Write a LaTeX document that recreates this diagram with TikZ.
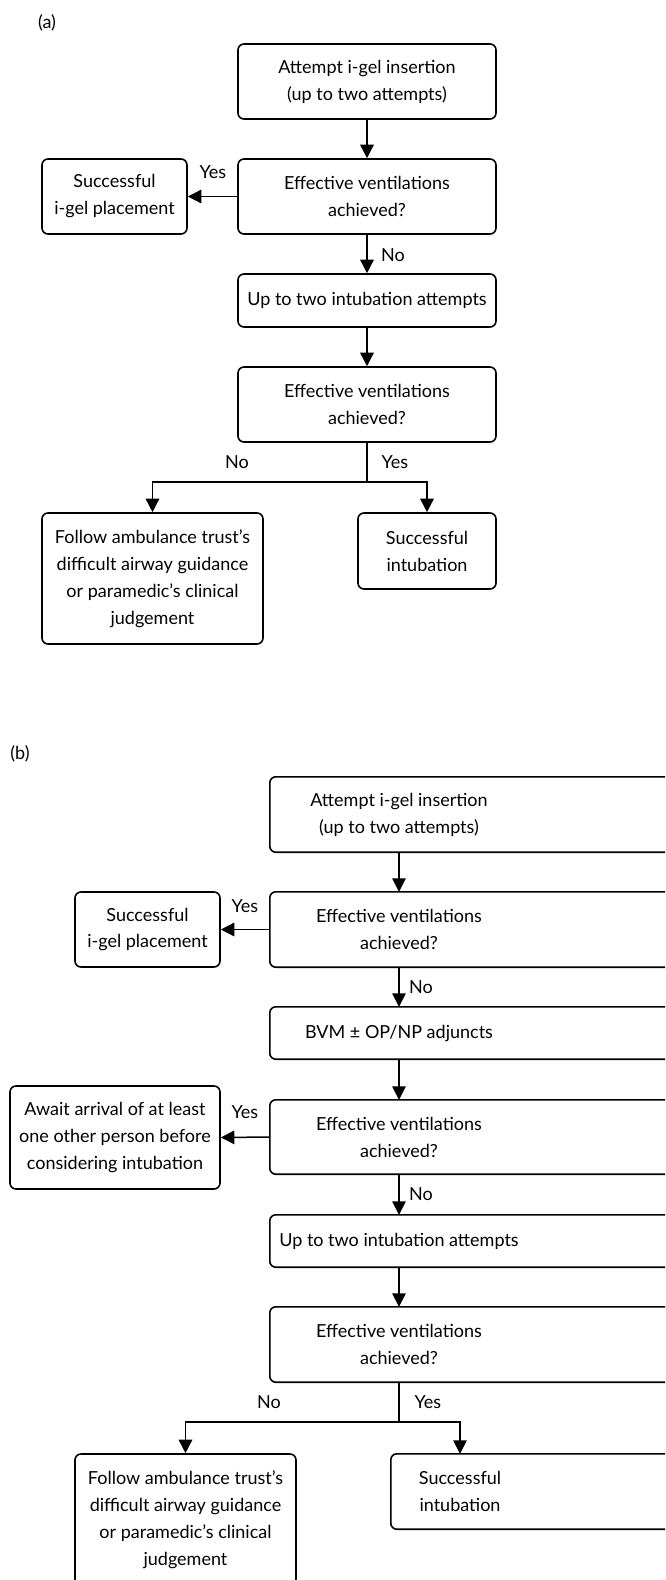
\documentclass[tikz,border=0pt]{standalone}
\usepackage{fontspec}
\setmainfont{Lato}
\usetikzlibrary{arrows.meta}
\begin{document}
\begin{tikzpicture}[x=1pt,y=-1pt,
  every node/.style={font=\fontsize{18}{27}\selectfont, inner sep=0pt},
  boxline/.style={draw=black, line width=1.6pt, rounded corners=6pt},
  flowbox/.style={boxline, align=center, minimum width=#1},
  flowbox/.default=258pt,
  textonly/.style={align=center, minimum width=258pt},
  conn/.style={line width=1.5pt, -{Triangle[length=13.5pt,width=13.5pt]}},
  plain/.style={line width=1.5pt},
  lab/.style={font=\fontsize{18}{27}\selectfont}
]
\useasboundingbox (0,0) rectangle (665,1580);
\clip (0,0) rectangle (665,1580);

% ---------------- (a) ----------------
\node[lab] (la) at (47,23) {(a)};
\node[flowbox, minimum height=75pt] (a1) at (367,81.5) {Attempt i-gel insertion\\(up to two attempts)};
\node[flowbox, minimum height=75pt] (a2) at (367,196.5) {Effective ventilations\\achieved?};
\node[flowbox=145pt, minimum height=75pt] (ay) at (114.5,196.5) {Successful\\i-gel placement};
\node[flowbox, minimum height=53pt] (a3) at (367,300.5) {Up to two intubation attempts};
\node[flowbox, minimum height=75pt] (a4) at (367,404.5) {Effective ventilations\\achieved?};
\node[flowbox=221pt, minimum height=131pt] (af) at (152.5,578.5) {Follow ambulance trust’s\\difficult airway guidance\\or paramedic’s clinical\\judgement};
\node[flowbox=138pt, minimum height=76pt] (as) at (427,551) {Successful\\intubation};
\coordinate (abr) at (367,482);

\draw[conn] (a1.south) -- (a2.north);
\draw[conn] (a2.west) -- (ay.east);
\draw[conn] (a2.south) -- (a3.north);
\draw[conn] (a3.south) -- (a4.north);
\draw[plain] (a4.south) -- (abr);
\draw[conn] (abr) -| (af.north);
\draw[conn] (abr) -| (as.north);

\node[lab] (ayes) at (213,172) {Yes};
\node[lab] (ano) at (393,255) {No};
\node[lab] (ano2) at (237,462) {No};
\node[lab] (ayes2) at (395,462) {Yes};

% ---------------- (b) ----------------
\node[lab] (lb) at (20,754) {(b)};
\node[textonly, minimum height=75pt] (b1) at (399,814.5) {Attempt i-gel insertion\\(up to two attempts)};
\node[textonly, minimum height=75pt] (b2) at (399,929.5) {Effective ventilations\\achieved?};
\node[flowbox=145pt, minimum height=75pt] (by) at (147.5,929.5) {Successful\\i-gel placement};
\node[textonly, minimum height=52pt] (b3) at (399,1033) {BVM ± OP/NP adjuncts};
\node[textonly, minimum height=74pt] (b4) at (399,1137) {Effective ventilations\\achieved?};
\node[flowbox=210pt, minimum height=103pt] (bw) at (115,1137.5) {Await arrival of at least\\one other person before\\considering intubation};
\node[textonly, minimum height=52pt] (b5) at (399,1241) {Up to two intubation attempts};
\node[textonly, minimum height=75pt] (b6) at (399,1344.5) {Effective ventilations\\achieved?};
\node[flowbox=221pt, minimum height=131pt] (bf) at (185.5,1519.5) {Follow ambulance trust’s\\difficult airway guidance\\or paramedic’s clinical\\judgement};
\node[textonly, minimum width=138pt, minimum height=75pt] (bs) at (460,1491.5) {Successful\\intubation};
\coordinate (bbr) at (399,1422);

% boxes cut by the right edge
\foreach \n in {b1,b2,b3,b4,b5,b6,bs}
  \draw[boxline] (\n.north west) rectangle ([xshift=200pt]\n.south east);

\draw[conn] (b1.south) -- (b2.north);
\draw[conn] (b2.west) -- (by.east);
\draw[conn] (b2.south) -- (b3.north);
\draw[conn] (b3.south) -- (b4.north);
\draw[conn] (b4.west) -- (bw.east);
\draw[conn] (b4.south) -- (b5.north);
\draw[conn] (b5.south) -- (b6.north);
\draw[plain] (b6.south) -- (bbr);
\draw[conn] (bbr) -| (bf.north);
\draw[conn] (bbr) -| (bs.north);

\node[lab] (byes) at (245,906) {Yes};
\node[lab] (bno) at (421,987) {No};
\node[lab] (byes2) at (245,1112) {Yes};
\node[lab] (bno2) at (421,1194) {No};
\node[lab] (bno3) at (269,1402) {No};
\node[lab] (byes3) at (428,1402) {Yes};
\end{tikzpicture}
\end{document}
